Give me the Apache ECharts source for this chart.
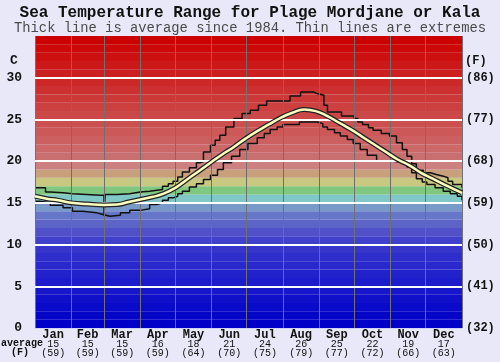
<!DOCTYPE html>
<html><head><meta charset="utf-8">
<script src="https://cdn.jsdelivr.net/npm/echarts@6/dist/echarts.min.js"></script>
<style>html,body{margin:0;padding:0;background:#e8e8f8}#c{width:500px;height:362px}</style>
</head><body><div id="c"></div>
<script>
var months = ['Jan','Feb','Mar','Apr','May','Jun','Jul','Aug','Sep','Oct','Nov','Dec'];
var monthStarts = [0,31,59,90,120,151,181,212,243,273,304,334,365];
var monthAvgC = [15,15,15,16,18,21,24,26,25,22,19,17];
var monthAvgF = [59,59,59,59,64,70,75,79,77,72,66,63];
var avgDays  = [0,10,20,31,45,59,70,80,90,100,110,120,130,140,150,160,170,180,190,200,210,220,230,240,250,260,270,280,290,300,310,320,330,340,350,365];
var avgTemps = [15.8,15.5,15.3,15.0,14.85,14.75,14.8,15.1,15.4,15.7,16.1,16.8,17.8,18.8,19.8,20.8,21.7,22.7,23.6,24.4,25.2,25.8,26.2,26.0,25.4,24.6,23.8,22.9,22.0,21.1,20.2,19.5,18.6,17.9,17.2,16.2];
var maxDays  = [0,4,9,13,24,32,56,59,60,70,81,90,98,109,114,118,122,126,132,138,141,144,150,154,158,163,170,177,184,191,198,218,227,238,241,247,250,262,273,276,280,285,289,296,303,309,314,318,322,326,332,338,343,349,353,357,365];
var maxTemps = [16.8,16.8,16.3,16.2,16.1,15.9,15.9,13.5,16.0,16.1,16.3,16.4,16.6,17.0,17.3,17.6,18.1,18.7,19.2,19.8,19.95,21.1,21.9,22.5,23.1,24.1,25.1,25.7,26.1,26.7,27.2,27.8,28.3,28.1,27.9,26.7,25.9,25.4,25.1,24.7,24.4,24.0,23.7,23.3,23.0,22.2,21.4,20.6,19.7,18.9,18.6,18.4,18.2,18.0,17.6,17.2,16.8];
var minDays  = [0,4,13,24,32,41,53,58,64,73,81,90,98,104,109,114,118,122,126,132,138,144,150,156,161,168,175,182,190,196,201,207,212,226,241,246,250,256,261,267,272,278,284,292,306,318,322,326,331,335,342,349,355,361,365];
var minTemps = [15.2,15.0,14.7,14.4,14.0,13.8,13.6,13.4,13.5,13.8,14.1,14.3,14.8,15.0,15.3,15.6,15.8,16.1,16.4,16.9,17.3,17.8,18.3,19.0,19.8,20.6,21.4,22.1,22.8,23.3,23.8,24.1,24.4,24.7,24.5,24.1,23.8,23.4,23.0,22.6,22.1,21.4,20.7,20.0,19.8,19.3,18.6,17.9,17.5,17.2,16.8,16.4,16.1,15.8,15.3];
var yTicksC = [0,5,10,15,20,25,30];
var bandColors = ['#0000c8','#0505c8','#0a0aca','#1010ca','#1616ca','#1c1ccc','#2222cc','#2828cc','#2e2ecc','#3636cc',
  '#4040cc','#5050c8','#5c64c8','#6676c8','#789ac8','#80c8c8','#80c880','#c8c880','#c8a07c','#cc8080',
  '#c87070','#cc6868','#cc6060','#cc5858','#cc5050','#cc4848','#cc4040','#cc3838','#cc3030','#cc2828',
  '#cc2020','#cc1818','#cc1010','#cc0808','#cc0000'];

function zip(a,b){return a.map(function(v,i){return [v,b[i]];});}
var midMonths = months.map(function(m,i){return (monthStarts[i]+monthStarts[i+1])/2;});
var FONT = 'Liberation Mono';

var bandAreas = bandColors.map(function(c,i){return [{yAxis:i,itemStyle:{color:c}},{yAxis:i+1}];});
var vLines = monthStarts.map(function(d){return {xAxis:d};});
var hLines = yTicksC.filter(function(v){return v>0;}).map(function(v){return {yAxis:v, lineStyle:{color:'#ffffff',width:2,type:'solid'}};});

var chart = echarts.init(document.getElementById('c'));
chart.setOption({
  backgroundColor:'#e8e8f8',
  animation:false,
  title:[
    {text:'Sea Temperature Range for Plage Mordjane or Kala',left:'center',top:5,padding:0,
     textStyle:{fontFamily:FONT,fontWeight:'bold',fontSize:16,color:'#111'}},
    {text:'Thick line is average since 1984. Thin lines are extremes',left:'center',top:21,padding:0,
     textStyle:{fontFamily:FONT,fontWeight:'normal',fontSize:13.8,color:'#4a4a4a'}}
  ],
  grid:{left:35,right:38,top:36,bottom:34},
  xAxis:{type:'value',min:0,max:365,
    axisLine:{show:true,lineStyle:{color:'#d0d0f0'}},axisTick:{show:false},splitLine:{show:false},
    axisLabel:{customValues:midMonths,margin:2,
      formatter:function(v){var i=midMonths.indexOf(v);if(i<0)return '';
        return '{m|'+months[i]+'}\n{a|'+monthAvgC[i]+'}\n{f|('+monthAvgF[i]+')}';},
      rich:{m:{fontFamily:FONT,fontWeight:'bold',fontSize:12,lineHeight:10,color:'#111'},
            a:{fontFamily:FONT,fontSize:10,lineHeight:9,color:'#111'},
            f:{fontFamily:FONT,fontSize:10,lineHeight:9,color:'#111'}}}},
  yAxis:[
    {type:'value',min:0,max:35,interval:5,position:'left',
     axisLine:{show:false},axisTick:{show:false},splitLine:{show:false},
     axisLabel:{margin:13,fontFamily:FONT,fontWeight:'bold',fontSize:13,color:'#111',
       formatter:function(v){return yTicksC.indexOf(v)>=0?String(v):'';}}},
    {type:'value',min:0,max:35,interval:5,position:'right',
     axisLine:{show:false},axisTick:{show:false},splitLine:{show:false},
     axisLabel:{margin:4,fontFamily:FONT,fontWeight:'bold',fontSize:12,color:'#111',
       formatter:function(v){return yTicksC.indexOf(v)>=0?'('+Math.round(v*9/5+32)+')':'';}}}
  ],
  graphic:[
    {type:'text',left:10,top:54,style:{text:'C',font:'bold 13px "Liberation Mono"',fill:'#111'}},
    {type:'text',left:465,top:55,style:{text:'(F)',font:'bold 12px "Liberation Mono"',fill:'#111'}},
    {type:'text',left:1,top:338,style:{text:'average',font:'bold 10px "Liberation Mono"',fill:'#111'}},
    {type:'text',left:11,top:347,style:{text:'(F)',font:'bold 10px "Liberation Mono"',fill:'#111'}}
  ],
  series:[
    {type:'line',data:[],z:1,silent:true,
     markArea:{silent:true,data:bandAreas}},
    {type:'line',data:[],z:2,silent:true,
     markLine:{silent:true,symbol:'none',label:{show:false},animation:false,
       lineStyle:{color:'#707070',width:1,type:'solid'},data:vLines.concat(hLines)}},
    {type:'line',name:'max',data:zip(maxDays,maxTemps),step:'end',showSymbol:false,z:4,
     lineStyle:{color:'#111',width:1.5}},
    {type:'line',name:'min',data:zip(minDays,minTemps),step:'end',showSymbol:false,z:4,
     lineStyle:{color:'#111',width:1.5}},
    {type:'line',name:'avgOutline',data:zip(avgDays,avgTemps),smooth:true,showSymbol:false,z:5,
     lineStyle:{color:'#222',width:5}},
    {type:'line',name:'avg',data:zip(avgDays,avgTemps),smooth:true,showSymbol:false,z:6,
     lineStyle:{color:'#ffffc0',width:2.5}}
  ]
});
</script></body></html>
